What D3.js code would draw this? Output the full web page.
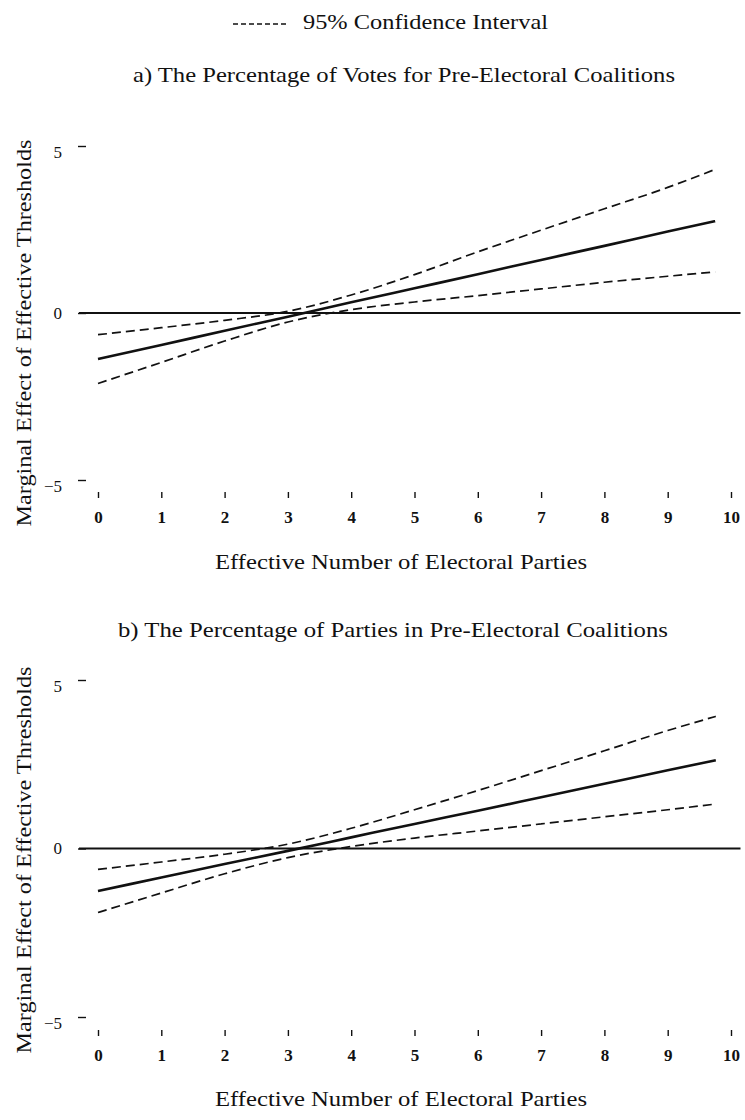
<!DOCTYPE html>
<html>
<head>
<meta charset="utf-8">
<script src="https://cdn.jsdelivr.net/npm/d3@7"></script>
<style>
  html, body { margin: 0; padding: 0; background: #fff; }
  svg text { font-family: "Liberation Serif", "Times New Roman", serif; fill: #111; }
</style>
</head>
<body>
<svg id="chart" width="745" height="1120"></svg>
<script>
// ---- data ----
const xTicks = [0, 1, 2, 3, 4, 5, 6, 7, 8, 9, 10];
const yTicks = [-5, 0, 5];

const xA = [0, 1, 2, 3, 4, 5, 6, 7, 8, 9, 9.75];
const meanA = [-1.38, -0.96, -0.53, -0.11, 0.32, 0.74, 1.16, 1.59, 2.01, 2.44, 2.75];
const upperA = [-0.65, -0.44, -0.22, 0.05, 0.54, 1.15, 1.83, 2.48, 3.12, 3.76, 4.30];
const lowerA = [-2.11, -1.48, -0.84, -0.27, 0.10, 0.33, 0.52, 0.72, 0.92, 1.10, 1.23];

const xB = [0, 1, 2, 3, 4, 5, 6, 7, 8, 9, 9.76];
const meanB = [-1.26, -0.86, -0.46, -0.07, 0.33, 0.73, 1.12, 1.52, 1.92, 2.32, 2.62];
const upperB = [-0.62, -0.40, -0.17, 0.13, 0.60, 1.15, 1.72, 2.31, 2.90, 3.50, 3.92];
const lowerB = [-1.90, -1.32, -0.75, -0.27, 0.06, 0.31, 0.52, 0.73, 0.94, 1.15, 1.32];

const legendLabel = "95% Confidence Interval";
const titleA = "a) The Percentage of Votes for Pre-Electoral Coalitions";
const titleB = "b) The Percentage of Parties in Pre-Electoral Coalitions";
const yLabel = "Marginal Effect of Effective Thresholds";
const xLabel = "Effective Number of Electoral Parties";

// ---- drawing ----
const svg = d3.select("#chart");
const x = d3.scaleLinear().domain([0, 10]).range([98, 731]);

// legend
svg.append("line")
  .attr("x1", 233).attr("x2", 287).attr("y1", 24).attr("y2", 24)
  .attr("stroke", "#111").attr("stroke-width", 1.3).attr("stroke-dasharray", "5,3");
svg.append("text").attr("x", 303).attr("y", 29)
  .attr("font-size", 21).attr("textLength", 245).attr("lengthAdjust", "spacingAndGlyphs")
  .text(legendLabel);

function panel(cfg) {
  const y = d3.scaleLinear().domain([-5, 5]).range([cfg.yBottom, cfg.yTop]);
  const g = svg.append("g");

  g.append("text").attr("x", cfg.titleX).attr("y", cfg.titleY)
    .attr("text-anchor", "middle").attr("font-size", 22)
    .attr("textLength", cfg.titleLen).attr("lengthAdjust", "spacingAndGlyphs")
    .text(cfg.title);

  // y label
  g.append("text")
    .attr("transform", `translate(31,${cfg.yLabelMid}) rotate(-90)`)
    .attr("text-anchor", "middle").attr("font-size", 22)
    .attr("textLength", 387).attr("lengthAdjust", "spacingAndGlyphs")
    .text(yLabel);

  // y axis (short dashes)
  const yAxis = d3.axisLeft(y).tickValues(yTicks).tickSize(8).tickPadding(16)
    .tickFormat(d3.format("d"));
  const ya = g.append("g").attr("transform", "translate(86,0)").call(yAxis);
  ya.select(".domain").remove();
  ya.selectAll(".tick line").attr("stroke", "#111").attr("stroke-width", 1.4);
  ya.selectAll(".tick text").attr("font-size", 17)
    .attr("dy", d => d === 0 ? "0.32em" : "0.7em");

  // x axis (short ticks)
  const xAxis = d3.axisBottom(x).tickValues(xTicks).tickSize(6).tickPadding(13)
    .tickFormat(d3.format("d"));
  const xa = g.append("g").attr("transform", `translate(0,${cfg.tickY})`).call(xAxis);
  xa.select(".domain").remove();
  xa.selectAll(".tick line").attr("stroke", "#111").attr("stroke-width", 1.4);
  xa.selectAll(".tick text").attr("font-size", 17).attr("font-weight", "bold");

  g.append("text").attr("x", 401).attr("y", cfg.xTitleY)
    .attr("text-anchor", "middle").attr("font-size", 22)
    .attr("textLength", 372).attr("lengthAdjust", "spacingAndGlyphs")
    .text(xLabel);

  // zero line
  g.append("line")
    .attr("x1", x(-0.3)).attr("x2", x(10.15))
    .attr("y1", y(0)).attr("y2", y(0))
    .attr("stroke", "#111").attr("stroke-width", 2.2);

  const line = d3.line().x(d => x(d[0])).y(d => y(d[1])).curve(d3.curveMonotoneX);
  const mk = (xs, ys) => xs.map((v, i) => [v, ys[i]]);

  g.append("path").datum(mk(cfg.xs, cfg.upper)).attr("d", line)
    .attr("fill", "none").attr("stroke", "#111").attr("stroke-width", 1.7)
    .attr("stroke-dasharray", "9,5");
  g.append("path").datum(mk(cfg.xs, cfg.lower)).attr("d", line)
    .attr("fill", "none").attr("stroke", "#111").attr("stroke-width", 1.7)
    .attr("stroke-dasharray", "9,5");
  g.append("path").datum(mk(cfg.xs, cfg.mean)).attr("d", line)
    .attr("fill", "none").attr("stroke", "#111").attr("stroke-width", 2.6);
}

panel({ title: titleA, titleX: 404, titleLen: 542, titleY: 82, yTop: 146, yBottom: 480,
        yLabelMid: 333, tickY: 492, xTitleY: 569,
        xs: xA, mean: meanA, upper: upperA, lower: lowerA });
panel({ title: titleB, titleX: 393, titleLen: 550, titleY: 637, yTop: 680, yBottom: 1017,
        yLabelMid: 860, tickY: 1030, xTitleY: 1106,
        xs: xB, mean: meanB, upper: upperB, lower: lowerB });
</script>
</body>
</html>
